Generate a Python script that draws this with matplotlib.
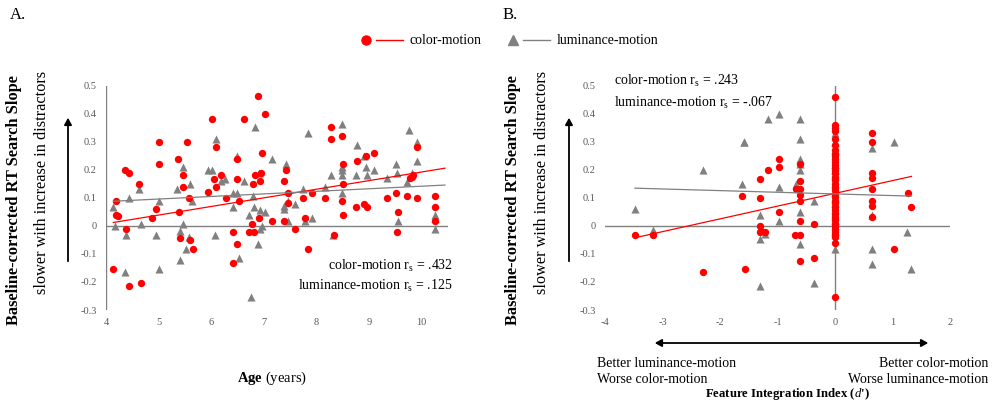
import matplotlib
matplotlib.use("Agg")
import matplotlib.pyplot as plt
import matplotlib.patches as mpatches
import numpy as np

plt.rcParams['font.family'] = ['Liberation Serif', 'DejaVu Serif']
plt.rcParams['mathtext.fontset'] = 'custom'
plt.rcParams['mathtext.rm'] = 'Liberation Serif'
plt.rcParams['mathtext.it'] = 'Liberation Serif:italic'
plt.rcParams['mathtext.bf'] = 'Liberation Serif:bold'
plt.rcParams['axes.unicode_minus'] = False

# ---------------- Data: Panel A (Age) ----------------
age_color = [4.19, 4.19, 4.22, 4.37, 4.43, 4.62, 4.39, 4.88, 4.95, 5.0, 5.0, 5.37, 5.39, 5.47,
             5.46, 5.54, 5.57, 5.94, 6.01, 6.05, 6.09, 6.09, 6.18, 6.28, 6.49, 6.49, 6.53, 6.42,
             6.63, 6.79, 6.84, 6.89, 6.93, 6.94, 6.97, 7.03, 6.91, 6.77, 6.72, 6.81, 7.15, 7.38,
             7.42, 7.46, 7.46, 7.38, 7.59, 7.74, 7.79, 7.92, 8.16, 8.28, 8.29, 8.50, 8.51, 8.51,
             8.49, 8.51, 8.77, 8.75, 8.94, 8.90, 8.97, 9.10, 8.33,
             4.14, 4.43, 4.67, 5.40, 5.59, 5.65, 6.49, 6.42, 7.84,
             9.35, 9.51, 9.72, 9.92, 9.55, 9.54, 9.79, 9.82, 9.84, 9.92, 10.26, 10.26, 10.26]
slope_color_a = [0.089, 0.038, 0.036, 0.199, 0.19, 0.149, -0.011, 0.027, 0.06, 0.30, 0.22, 0.24,
                 0.049, 0.18, 0.139, 0.30, 0.10, 0.12, 0.382, 0.168, 0.139, 0.28, 0.18, 0.10,
                 0.24, 0.169, 0.089, -0.023, 0.382, 0.149, 0.18, 0.463, 0.16, 0.19, 0.26, 0.40,
                 0.029, 0.007, -0.023, -0.023, 0.017, 0.16, 0.20, 0.119, 0.08, 0.018, -0.011,
                 0.099, 0.029, 0.119, 0.099, 0.351, 0.31, 0.32, 0.219, 0.15, 0.089, 0.038, 0.231,
                 0.069, 0.25, 0.079, 0.069, 0.26, -0.032,
                 -0.154, -0.214, -0.204, -0.042, -0.052, -0.083, -0.063, -0.132, -0.083,
                 0.099, 0.119, 0.108, 0.10, 0.049, -0.023, 0.17, 0.176, 0.182, 0.281, 0.108,
                 0.069, 0.018]

age_lum = [4.14, 4.18, 4.43, 4.62, 4.67, 5.0, 4.95, 4.39, 5.36, 5.46, 5.46, 5.59, 5.64, 5.40,
           5.57, 5.94, 6.01, 6.09, 6.18, 6.27, 6.42, 6.49, 6.49, 6.42, 6.62, 6.72, 6.79, 6.81,
           6.84, 6.91, 6.93, 7.03, 6.96, 6.93, 6.08, 7.15, 7.42, 7.38, 7.38, 7.46, 7.59, 7.47,
           7.74, 7.84, 7.79, 7.92, 8.16, 8.28, 8.50, 8.50, 8.50, 8.50, 8.50, 8.31, 8.77, 8.75,
           8.90, 8.94, 8.97, 9.10,
           4.37, 5.0, 5.40, 5.52, 6.54, 6.90, 6.75,
           9.35, 9.51, 9.53, 9.72, 9.83, 9.77, 9.92, 9.92, 10.26, 10.26, 9.55, 10.26]
slope_lum_a = [0.068, 0.0, 0.10, 0.13, 0.008, 0.089, -0.031, -0.032, 0.13, 0.21, 0.008, 0.149,
               0.089, -0.02, -0.04, 0.20, 0.20, 0.31, 0.16, 0.169, 0.119, 0.119, 0.25, 0.069,
               0.16, 0.038, 0.108, 0.069, 0.351, 0.19, 0.058, 0.049, 0.0, -0.01, -0.031, 0.24,
               0.22, 0.06, 0.07, 0.089, 0.079, 0.018, 0.13, 0.33, 0.018, 0.029, 0.139, 0.18,
               0.362, 0.20, 0.21, 0.18, 0.119, -0.032, 0.29, 0.18, 0.25, 0.21, 0.18, 0.20,
               -0.164, -0.152, -0.123, -0.083, -0.113, -0.063, -0.254,
               0.17, 0.22, 0.19, 0.158, 0.19, 0.343, 0.30, 0.23, 0.039, 0.027, 0.018, -0.012]

# trend lines: (slope, intercept), x-range
trend_color_a = (0.0307, -0.115)
trend_lum_a = (0.00915, 0.050)
trend_range_a = (4.14, 10.45)

# ---------------- Data: Panel B (Feature Integration Index) ----------------
fii_color = [-3.48, -3.17, -2.29, -1.57, -1.62, -1.30, -1.30, -1.30, -1.30, -1.22, -1.29, -1.16,
             -0.98, -0.98, -0.98, -0.69, -0.61, -0.61, -0.61, -0.61, -0.61, -0.61, -0.61,
             -0.67, -0.61, -0.365, -0.365,
             0.65, 0.65, 0.65, 0.65, 0.65, 0.65, 0.65, 0.65, 1.02, 1.27, 1.33]
slope_color_b = [-0.033, -0.033, -0.163, -0.152, 0.108, 0.169, 0.098, 0.0, -0.023, -0.023, -0.02,
                 0.199, 0.24, 0.21, 0.048, -0.032, -0.032, 0.018, -0.124, 0.219, 0.16, 0.13,
                 0.11, 0.13, 0.089, 0.008, -0.113,
                 0.33, 0.30, 0.19, 0.17, 0.13, 0.089, 0.07, 0.03, -0.082, 0.119, 0.068]
zero_col_color = [0.461, 0.36, 0.348, 0.338, 0.31, 0.288, 0.27, 0.258, 0.249, 0.24, 0.229,
                  0.217, 0.208, 0.199, 0.187, 0.175, 0.163, 0.151, 0.139, 0.127, 0.115, 0.104,
                  0.089, 0.08, 0.068, 0.056, 0.044, 0.032, 0.02, 0.008, 0.0, -0.011, -0.021,
                  -0.033, -0.04, -0.061, -0.254]

fii_lum = [-3.48, -3.17, -2.29, -1.59, -1.62, -1.30, -1.30, -1.22, -1.30, -0.98, -0.98, -1.16,
           -0.98, -1.58, -0.61, -0.61, -0.61, -0.61, -0.61, -0.67, -0.61, -0.61, -0.365,
           -0.365, 0.65, 0.65, 0.65, 0.65, 1.02, 1.26, 1.33]
slope_lum_b = [0.06, -0.013, 0.199, 0.30, 0.149, 0.04, -0.045, -0.03, -0.213, 0.018, 0.40, 0.38,
               0.139, 0.30, 0.38, 0.31, 0.24, 0.219, 0.199, 0.149, 0.049, -0.063, 0.089,
               -0.202, 0.279, 0.04, -0.082, -0.135, 0.30, -0.023, -0.152]
zero_col_lum = [0.33, 0.30, 0.27, 0.22, 0.20, 0.18, 0.15, 0.12, 0.10, 0.08, 0.06, 0.04, 0.02,
                0.0, -0.02, -0.083]

trend_color_b = (0.0455, 0.116)
trend_lum_b = (-0.0059, 0.114)
trend_range_b = (-3.48, 1.33)

yticks = [-0.3, -0.2, -0.1, 0, 0.1, 0.2, 0.3, 0.4, 0.5]
ytick_labels = ['-0.3', '-0.2', '-0.1', '0', '0.1', '0.2', '0.3', '0.4', '0.5']
xticks_a = [4, 5, 6, 7, 8, 9, 10]
xticks_b = [-4, -3, -2, -1, 0, 1, 2]

RED = '#FF0000'
GRAY = '#808080'
TICKC = '#595959'

fig = plt.figure(figsize=(9.94, 4.11), dpi=100)

# axes geometry in pixels (left, bottom, width, height)
axA = fig.add_axes([106/994, 1-310/411, 341.6/994, 224.3/411])
axB = fig.add_axes([605/994, 1-310/411, 345/994, 224.3/411])

ms = 28
for ax in (axA, axB):
    for s in ax.spines.values():
        s.set_visible(False)
    ax.set_ylim(-0.3, 0.5)
    ax.set_yticks(yticks)
    ax.set_yticklabels(ytick_labels)
    ax.tick_params(length=0, labelsize=7.5, labelcolor=TICKC)
    ax.tick_params(axis='y', pad=6.5)
    ax.tick_params(axis='x', pad=6)
    ax.axhline(0, color=GRAY, lw=1.0, zorder=1)

# Panel A
axA.set_xlim(4, 10.5)
axA.set_xticks(xticks_a)
axA.axvline(4, color=GRAY, lw=1.0, zorder=1)
axA.scatter(age_lum, slope_lum_a, marker='^', s=ms+6, color=GRAY, linewidths=0, zorder=2)
axA.scatter(age_color, slope_color_a, marker='o', s=ms, color=RED, linewidths=0, zorder=3)
xa = np.array(trend_range_a)
axA.plot(xa, trend_color_a[0]*xa + trend_color_a[1], color=RED, lw=0.9, zorder=4)
axA.plot(xa, trend_lum_a[0]*xa + trend_lum_a[1], color=GRAY, lw=0.9, zorder=4)
axA.text(10.6, -0.143, r'color-motion r$_\mathregular{s}$ = .432', ha='right', va='center',
         fontsize=10, clip_on=False)
axA.text(10.6, -0.214, r'luminance-motion r$_\mathregular{s}$ = .125', ha='right', va='center',
         fontsize=10, clip_on=False)

# Panel B
axB.set_xlim(-4, 2)
axB.set_xticks(xticks_b)
axB.axvline(0, color=GRAY, lw=1.0, zorder=1)
axB.scatter(fii_lum, slope_lum_b, marker='^', s=ms+6, color=GRAY, linewidths=0, zorder=2)
axB.scatter([0]*len(zero_col_lum), zero_col_lum, marker='^', s=ms+6, color=GRAY, linewidths=0, zorder=2)
axB.scatter(fii_color, slope_color_b, marker='o', s=ms, color=RED, linewidths=0, zorder=3)
axB.scatter([0]*len(zero_col_color), zero_col_color, marker='o', s=ms, color=RED, linewidths=0, zorder=3)
xb = np.array(trend_range_b)
axB.plot(xb, trend_color_b[0]*xb + trend_color_b[1], color=RED, lw=0.9, zorder=4)
axB.plot(xb, trend_lum_b[0]*xb + trend_lum_b[1], color=GRAY, lw=0.9, zorder=4)
axB.text(-3.84, 0.518, r'color-motion r$_\mathregular{s}$ = .243', ha='left', va='center',
         fontsize=10, clip_on=False)
axB.text(-3.84, 0.44, r'luminance-motion r$_\mathregular{s}$ = -.067', ha='left', va='center',
         fontsize=10, clip_on=False)

# Panel letters
fig.text(10/994, 1-15/411, 'A.', fontsize=12, va='center', ha='left')
fig.text(503/994, 1-15/411, 'B.', fontsize=12, va='center', ha='left')

# Legend (manual, figure coords)
ly = 1-40/411
fig.lines.append(plt.Line2D([366/994], [ly], marker='o', color=RED, ms=6.5, transform=fig.transFigure))
fig.lines.append(plt.Line2D([376/994, 403/994], [ly]*2, color=RED, lw=1.0, transform=fig.transFigure))
fig.text(410/994, ly, 'color-motion', fontsize=10, va='center', ha='left')
fig.lines.append(plt.Line2D([513/994], [ly], marker='^', color=GRAY, ms=7, transform=fig.transFigure))
fig.lines.append(plt.Line2D([523/994, 550/994], [ly]*2, color=GRAY, lw=1.0, transform=fig.transFigure))
fig.text(557/994, ly, 'luminance-motion', fontsize=10, va='center', ha='left')

# Y labels + arrows
for xb_px, xs_px, xa_px in [(14, 42, 68), (513, 542, 569)]:
    fig.text(xb_px/994, 1-200/411, 'Baseline-corrected RT Search Slope', rotation=90,
             fontsize=11.8, fontweight='bold', va='center', ha='center')
    fig.text(xs_px/994, 1-182.5/411, 'slower with increase in distractors', rotation=90,
             fontsize=11.7, va='center', ha='center')
    fig.add_artist(mpatches.FancyArrowPatch(
        (xa_px/994, 1-264/411), (xa_px/994, 1-115/411), transform=fig.transFigure,
        arrowstyle='-|>,head_length=4,head_width=2.2', color='black', lw=1.3))

# X labels
fig.text(272/994, 1-378/411, r'$\mathbf{Age}$ (years)', fontsize=10.5, va='center', ha='center')
fig.text(787/994, 1-394/411, r'Feature Integration Index ($\mathit{d}$' + "')", fontsize=9.2,
         fontweight='bold', va='center', ha='center')
fig.add_artist(mpatches.FancyArrowPatch(
    (652/994, 1-343/411), (931/994, 1-343/411), transform=fig.transFigure,
    arrowstyle='<|-|>,head_length=4,head_width=2.2', color='black', lw=1.3))
fig.text(597/994, 1-363/411, 'Better luminance-motion', fontsize=10, va='center', ha='left')
fig.text(597/994, 1-379/411, 'Worse color-motion', fontsize=10, va='center', ha='left')
fig.text(988/994, 1-363/411, 'Better color-motion', fontsize=10, va='center', ha='right')
fig.text(988/994, 1-379/411, 'Worse luminance-motion', fontsize=10, va='center', ha='right')

fig.savefig('out.png', dpi=100)
